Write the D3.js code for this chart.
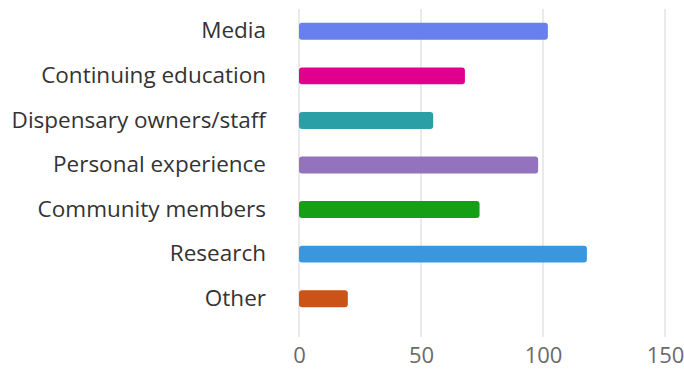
<!DOCTYPE html>
<html>
<head>
<meta charset="utf-8">
<script src="https://cdn.jsdelivr.net/npm/d3@7"></script>
<style>
  html, body { margin: 0; padding: 0; background: #fff; }
  svg { display: block; }
  text { font-family: "Open Sans", "Noto Sans", sans-serif; }
</style>
</head>
<body>
<svg id="chart" width="684" height="370"></svg>
<script>
// Sources of information, number of respondents
const categories = [
  "Media",
  "Continuing education",
  "Dispensary owners/staff",
  "Personal experience",
  "Community members",
  "Research",
  "Other"
];
const counts = [102, 68, 55, 98, 74, 118, 20];
const barColors = ["#6780EF", "#E1008D", "#2BA0A6", "#9373BD", "#189E14", "#3A97DD", "#CB5214"];
const tickValues = [0, 50, 100, 150];

const svg = d3.select("#chart");
const margin = { top: 9, right: 19, bottom: 49, left: 299 };
const width = 684 - margin.left - margin.right;
const plotBottom = 337;

const x = d3.scaleLinear().domain([0, 150]).range([margin.left, margin.left + width]);
const y = d3.scaleBand().domain(categories).range([9, 321]).paddingInner(0.62).paddingOuter(0.31);

// vertical gridlines
svg.append("g")
  .selectAll("line")
  .data(tickValues)
  .join("line")
  .attr("x1", d => x(d)).attr("x2", d => x(d))
  .attr("y1", margin.top).attr("y2", plotBottom)
  .attr("stroke", "#e3e3e3")
  .attr("stroke-width", 1.5);

// tick labels
const xAxis = d3.axisBottom(x).tickValues(tickValues).tickSize(0).tickPadding(0);
const gx = svg.append("g").attr("transform", `translate(0, ${plotBottom})`).call(xAxis);
gx.select(".domain").remove();
gx.selectAll("text")
  .attr("dy", null)
  .attr("y", 26)
  .attr("fill", "#6a6a6a")
  .style("font-size", "22px")
  .style("font-family", "'Open Sans', 'Noto Sans', sans-serif");

// category labels
const yAxis = d3.axisLeft(y).tickSize(0).tickPadding(0);
const gy = svg.append("g").attr("transform", "translate(266, 0)").call(yAxis);
gy.select(".domain").remove();
gy.selectAll("text")
  .attr("fill", "#333")
  .style("font-size", "22.5px")
  .style("font-family", "'Open Sans', 'Noto Sans', sans-serif");

// bars
const defs = svg.append("defs");
defs.append("filter").attr("id", "soft")
  .append("feGaussianBlur").attr("stdDeviation", 0.5);

svg.append("g")
  .selectAll("rect")
  .data(categories)
  .join("rect")
  .attr("x", x(0))
  .attr("y", d => y(d))
  .attr("width", (d, i) => x(counts[i]) - x(0))
  .attr("height", y.bandwidth())
  .attr("rx", 3)
  .attr("fill", (d, i) => barColors[i])
  .attr("filter", "url(#soft)");
</script>
</body>
</html>
